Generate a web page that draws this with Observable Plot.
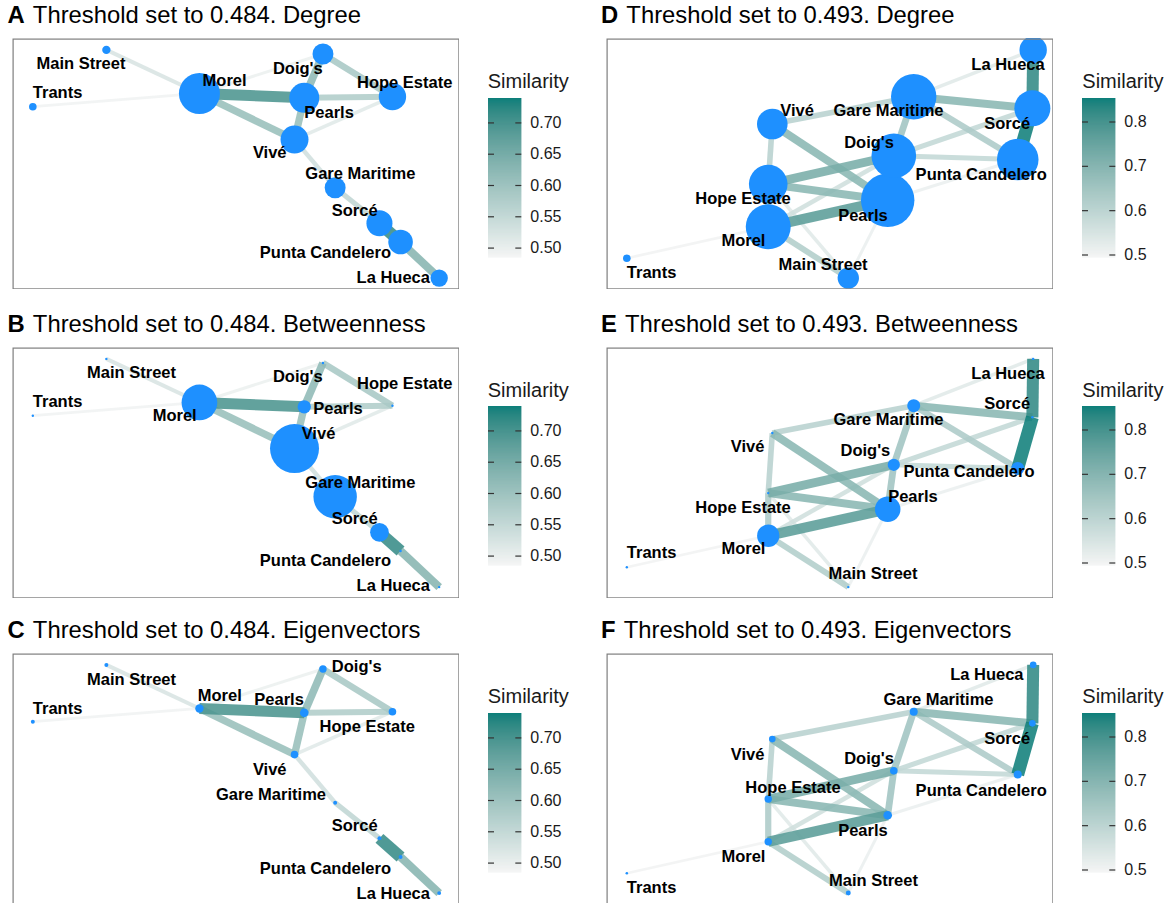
<!DOCTYPE html>
<html><head><meta charset="utf-8">
<script src="https://cdn.jsdelivr.net/npm/d3@7"></script>
<script src="https://cdn.jsdelivr.net/npm/@observablehq/plot@0.6"></script>
<style>
html,body{margin:0;padding:0;overflow:hidden;background:#fff;}
#root{position:relative;width:1172px;height:903px;overflow:hidden;font-family:"Liberation Sans",Arial,Helvetica,sans-serif;}
.title{position:absolute;font-size:23.8px;line-height:23.8px;white-space:nowrap;color:#000;}
.title b{margin-right:2px}
.ltitle{position:absolute;font-size:20px;line-height:20px;white-space:nowrap;color:#1a1a1a;}
</style></head><body><div id="root"></div>
<script>
// ---------- data ----------
const nodeNames = ["Main Street","Trants","Morel","Doig's","Pearls","Hope Estate","Vivé","Gare Maritime","Sorcé","Punta Candelero","La Hueca"];

// network layout, threshold 0.484 (layout units)
const layout484X = [18.1, 0, 41.0, 71.4, 66.8, 88.5, 64.4, 74.4, 85.3, 90.5, 100];
const layout484Y = [100, 75.1, 80.9, 98.2, 79.0, 79.5, 60.7, 39.6, 24.0, 15.8, 0];
// network layout, threshold 0.493
const layout493X = [54.5, 0, 34.8, 65.7, 64.2, 34.8, 35.8, 70.6, 99.8, 96.2, 100];
const layout493Y = [0, 8.7, 22.5, 53.6, 34.1, 41.2, 67.5, 79.5, 74.4, 52.0, 100];

// edges [from, to, similarity]
const edges484 = [
  ["Trants","Morel",0.49],
  ["Morel","Doig's",0.495],
  ["Vivé","Hope Estate",0.51],
  ["Main Street","Morel",0.52],
  ["Vivé","Gare Maritime",0.53],
  ["Gare Maritime","Sorcé",0.55],
  ["Pearls","Hope Estate",0.57],
  ["Doig's","Hope Estate",0.58],
  ["Morel","Vivé",0.60],
  ["Pearls","Vivé",0.60],
  ["Doig's","Pearls",0.61],
  ["Punta Candelero","La Hueca",0.62],
  ["Morel","Pearls",0.69],
  ["Sorcé","Punta Candelero",0.71]
];
const edges493 = [
  ["Trants","Morel",0.50],
  ["Pearls","Main Street",0.51],
  ["Pearls","Punta Candelero",0.51],
  ["Hope Estate","Main Street",0.53],
  ["Gare Maritime","La Hueca",0.53],
  ["Morel","Doig's",0.56],
  ["Doig's","Sorcé",0.58],
  ["Doig's","Punta Candelero",0.58],
  ["Hope Estate","Vivé",0.60],
  ["Vivé","Gare Maritime",0.60],
  ["Morel","Main Street",0.61],
  ["Morel","Hope Estate",0.62],
  ["Gare Maritime","Punta Candelero",0.62],
  ["Doig's","Pearls",0.64],
  ["Gare Maritime","Doig's",0.64],
  ["Hope Estate","Pearls",0.68],
  ["Vivé","Pearls",0.68],
  ["Gare Maritime","Sorcé",0.68],
  ["Hope Estate","Doig's",0.71],
  ["Morel","Pearls",0.76],
  ["Sorcé","La Hueca",0.82],
  ["Sorcé","Punta Candelero",0.85]
];

// node centralities (same order as nodeNames)
const degree484      = [0.57, 0.52, 2.80, 1.43, 2.05, 1.87, 1.91, 1.43, 1.78, 1.68, 1.19];
const betweenness484 = [0, 0, 18.6, 0, 6.1, 0, 26, 22.9, 9.1, 0, 0];
const eigen484       = [0.30, 0.30, 0.97, 0.82, 1.00, 0.85, 0.85, 0.30, 0.30, 0.30, 0.28];
const degree493      = [1.46, 0.52, 3.07, 3.05, 3.65, 2.64, 2.09, 3.10, 2.46, 2.84, 1.87];
const betweenness493 = [0, 0, 11.1, 5.5, 12.9, 0, 0, 5.9, 0, 5.9, 0];
const eigen493       = [0.45, 0.09, 0.82, 0.85, 1.00, 0.82, 0.70, 0.91, 0.70, 0.91, 0.70];

// label anchor positions (layout units) per panel
const labelAX = [11.85, 6.1, 47.2, 65.2, 72.9, 91.5, 58.3, 80.6, 79.2, 72.0, 88.7];
const labelAY = [93.8, 81.1, 86.7, 91.9, 72.4, 85.5, 54.8, 45.8, 29.7, 11.3, 0.3];
const labelBX = [24.3, 6.1, 34.9, 65.2, 75.1, 91.5, 70.3, 80.6, 79.2, 72.0, 88.7];
const labelBY = [93.8, 81.1, 75.1, 92.3, 78.0, 89.0, 67.3, 45.8, 29.9, 11.7, 0.6];
const labelCX = [24.3, 6.1, 46.0, 79.7, 60.6, 82.3, 58.3, 58.6, 79.2, 72.0, 88.7];
const labelCY = [93.6, 80.8, 86.3, 99.0, 84.8, 72.9, 54.0, 42.9, 29.7, 10.8, -0.2];
const labelDX = [48.3, 6.1, 28.7, 59.6, 58.1, 28.6, 41.9, 64.4, 93.6, 87.2, 93.8];
const labelDY = [5.8, 2.5, 16.2, 59.4, 27.4, 34.6, 73.2, 73.2, 67.8, 45.5, 93.3];
const labelEX = [60.6, 6.1, 28.7, 58.7, 70.4, 28.6, 29.7, 64.4, 93.6, 84.2, 93.8];
const labelEY = [6.0, 15.1, 16.6, 59.8, 39.7, 34.6, 61.7, 73.4, 80.4, 50.7, 93.5];
const labelFX = [60.7, 6.1, 28.7, 59.6, 58.1, 40.9, 29.7, 76.7, 93.6, 87.2, 88.6];
const labelFY = [5.5, 2.5, 15.9, 59.0, 27.4, 46.2, 60.7, 84.9, 67.8, 44.8, 95.8];

// legend
const thresholds = [0.484, 0.493];
const similarityMax = [0.739, 0.853];
const legendTicks484 = [0.50, 0.55, 0.60, 0.65, 0.70];
const legendTicks493 = [0.5, 0.6, 0.7, 0.8];

// ---------- drawing ----------
const FONT = '"Liberation Sans", Arial, Helvetica, sans-serif';
const LOW = "#f5f5f5", HIGH = "#0b7f7a";
const root = document.getElementById("root");
function place(el, left, top) {
  el.style.position = "absolute";
  el.style.left = left + "px";
  el.style.top = top + "px";
  root.appendChild(el);
}
const idx = new Map(nodeNames.map((n, i) => [n, i]));

const rScales = {
  Degree: {type: "linear", domain: [0, 1], range: [0, 7.32]},
  Betweenness: {type: "linear", domain: [0, 26], range: [1.2, 24.5]},
  Eigenvectors: {type: "linear", domain: [0, 1], range: [1, 4.3]}
};

function networkPanel(p) {
  const nodes = nodeNames.map((name, i) => ({name, x: p.lx[i], y: p.ly[i], size: p.size[i], tx: p.tx[i], ty: p.ty[i]}));
  const links = p.edges.map(([a, b, w]) => ({
    x1: p.lx[idx.get(a)], y1: p.ly[idx.get(a)],
    x2: p.lx[idx.get(b)], y2: p.ly[idx.get(b)], w
  })).sort((u, v) => u.w - v.w);
  const widthScale = d3.scaleLinear([p.thr, p.max], [2.5, 13]);
  return Plot.plot({
    width: 447, height: 251, margin: 0,
    style: {fontFamily: FONT, background: "transparent"},
    x: {domain: [-5, 105], axis: null},
    y: {domain: [-5, 105], axis: null},
    color: {type: "linear", domain: [p.thr, p.max], range: [LOW, HIGH], interpolate: "lab"},
    r: rScales[p.measure],
    marks: [
      Plot.link(links, {x1: "x1", y1: "y1", x2: "x2", y2: "y2", stroke: "w",
        strokeWidth: d => widthScale(d.w), strokeOpacity: 0.88}),
      Plot.dot(nodes, {x: "x", y: "y", r: "size", fill: "#1e90ff"}),
      Plot.text(nodes, {x: "tx", y: "ty", text: "name", fontSize: 16.5, fontWeight: "bold", fill: "#000"}),
      Plot.frame({stroke: "#7f7f7f", strokeWidth: 1.2, inset: 0.6})
    ]
  });
}

function legendPlot(thr, max, ticks, fmt) {
  const N = 160;
  const step = (max - thr) / N;
  const stripes = d3.range(N).map(i => ({
    a: thr + step * i,
    b: Math.min(max, thr + step * (i + 1.5)),
    m: thr + step * (i + 0.5)
  }));
  return Plot.plot({
    width: 104, height: 200,
    marginLeft: 10, marginRight: 60.7, marginTop: 20, marginBottom: 20.4,
    style: {fontFamily: FONT, fontSize: "16px", color: "#1a1a1a", background: "transparent"},
    x: {domain: [0, 1], axis: null},
    y: {domain: [thr, max], axis: "right", ticks: ticks, tickFormat: fmt, tickSize: 0, tickPadding: 8.5, label: null},
    color: {type: "linear", domain: [thr, max], range: [LOW, HIGH], interpolate: "lab"},
    marks: [
      Plot.rect(stripes, {x1: () => 0, x2: () => 1, y1: "a", y2: "b", fill: "m"}),
      Plot.ruleY(ticks, {y: d => d, x1: () => 0, x2: () => 0.18, stroke: "#333", strokeWidth: 1.2}),
      Plot.ruleY(ticks, {y: d => d, x1: () => 0.82, x2: () => 1, stroke: "#333", strokeWidth: 1.2})
    ]
  });
}

const cols = [
  {titleLeft: 7.5, frameLeft: 12, barLeft: 487.7, thrIdx: 0, lx: layout484X, ly: layout484Y, edges: edges484, ticks: legendTicks484, fmt: ".2f"},
  {titleLeft: 601, frameLeft: 606, barLeft: 1082.3, thrIdx: 1, lx: layout493X, ly: layout493Y, edges: edges493, ticks: legendTicks493, fmt: ".1f"}
];
const rowTops = [38.3, 346.7, 653.3];
const measures = ["Degree", "Betweenness", "Eigenvectors"];
const sizes = [[degree484, betweenness484, eigen484], [degree493, betweenness493, eigen493]];
const labelsX = [[labelAX, labelBX, labelCX], [labelDX, labelEX, labelFX]];
const labelsY = [[labelAY, labelBY, labelCY], [labelDY, labelEY, labelFY]];
const letters = [["A", "B", "C"], ["D", "E", "F"]];

cols.forEach((c, ci) => {
  const thr = thresholds[c.thrIdx], max = similarityMax[c.thrIdx];
  rowTops.forEach((top, ri) => {
    const t = document.createElement("div");
    t.className = "title";
    t.innerHTML = `<b>${letters[ci][ri]}</b> Threshold set to ${thr.toFixed(3)}. ${measures[ri]}`;
    place(t, c.titleLeft, top - 15 - 20.1);

    const svg = networkPanel({
      thr, max, measure: measures[ri], lx: c.lx, ly: c.ly, edges: c.edges,
      size: sizes[ci][ri], tx: labelsX[ci][ri], ty: labelsY[ci][ri]
    });
    place(svg, c.frameLeft, top);

    const lt = document.createElement("div");
    lt.className = "ltitle";
    lt.textContent = "Similarity";
    place(lt, c.barLeft, top + 50 - 16.9);

    const leg = legendPlot(thr, max, c.ticks, c.fmt);
    place(leg, c.barLeft - 10, top + 59.4 - 20);
  });
});
</script></body></html>
